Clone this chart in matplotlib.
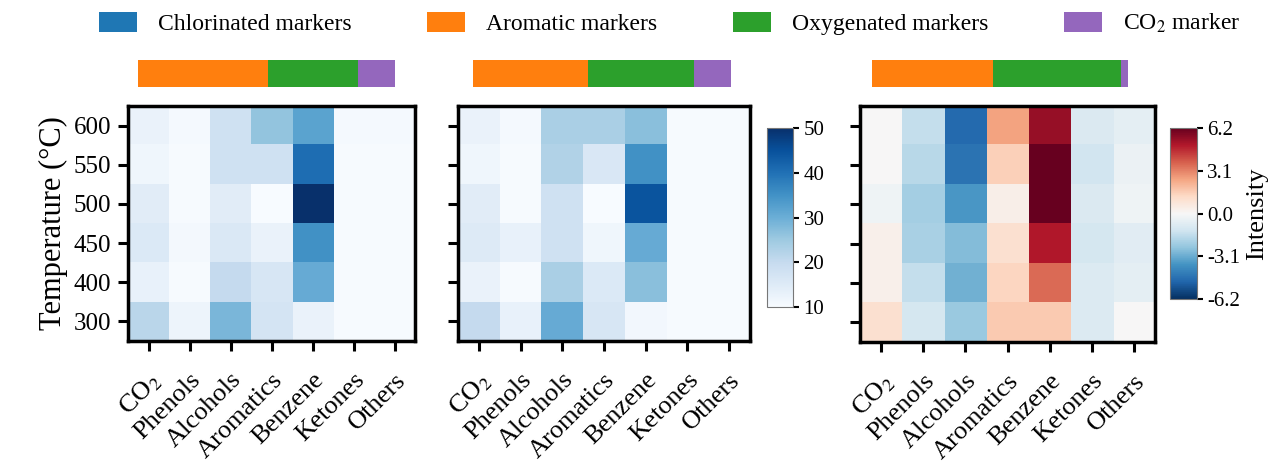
"""
Heatmaps of marker intensities vs temperature
"""
import numpy as np
import matplotlib
matplotlib.use("Agg")
import matplotlib.pyplot as plt
from matplotlib.patches import Patch

plt.rcParams['font.family'] = ['Liberation Serif', 'DejaVu Serif']
plt.rcParams['mathtext.fontset'] = 'stix'
plt.rcParams['axes.unicode_minus'] = False

compounds = ["CO$_2$", "Phenols", "Alcohols", "Aromatics", "Benzene", "Ketones", "Others"]
temperatures = ["600", "550", "500", "450", "400", "300"]

# panel 1 (rows: 600 .. 300)
panel_a = [
    [12.5, 10.5, 18.0, 26.0, 32.0, 10.5, 10.5],
    [11.5, 10.3, 18.0, 18.0, 40.5, 10.3, 10.3],
    [14.5, 10.2, 14.5, 10.0, 50.0, 10.3, 10.3],
    [15.5, 10.8, 15.8, 12.5, 35.0, 10.3, 10.3],
    [13.0, 10.3, 20.0, 16.5, 30.5, 10.3, 10.3],
    [21.5, 12.0, 28.5, 17.0, 12.5, 10.3, 10.3],
]
# panel 2
panel_b = [
    [12.5, 10.5, 23.5, 23.5, 27.0, 10.3, 10.3],
    [11.5, 10.3, 22.5, 16.0, 35.0, 10.3, 10.3],
    [14.5, 10.3, 18.0, 10.0, 44.5, 10.3, 10.3],
    [15.0, 13.0, 18.0, 11.5, 30.5, 10.3, 10.3],
    [12.5, 10.3, 23.5, 15.5, 27.0, 10.3, 10.3],
    [20.0, 13.0, 30.5, 16.5, 11.0, 10.3, 10.3],
]
# panel 3 (difference)
panel_diff = [
    [0.0, -1.5, -4.8, 2.5, 5.4, -0.9, -0.6],
    [0.0, -1.7, -4.6, 1.5, 6.2, -1.2, -0.35],
    [-0.25, -2.1, -3.6, 0.35, 6.2, -0.9, -0.25],
    [0.3, -2.0, -2.7, 1.0, 4.95, -1.1, -0.7],
    [0.3, -1.5, -3.0, 1.35, 3.5, -0.85, -0.6],
    [1.0, -1.1, -2.3, 1.6, 1.6, -0.85, 0.0],
]

marker_names = ["Chlorinated markers", "Aromatic markers", "Oxygenated markers", "CO$_2$ marker"]
marker_colors = ["#1f77b4", "#ff7f0e", "#2ca02c", "#9467bd"]
share_a = [0.0, 50.6, 35.0, 14.4]
share_b = [0.0, 44.6, 41.1, 14.3]
share_diff = [0.0, 47.3, 50.0, 2.7]

fig = plt.figure(figsize=(12.75, 4.62), dpi=100)


def heatmap(rect, data, cmap, vmin, vmax, ylabels):
    ax = fig.add_axes(rect)
    im = ax.imshow(np.array(data), cmap=cmap, vmin=vmin, vmax=vmax, aspect='auto')
    ax.set_xticks(range(len(compounds)))
    ax.set_xticklabels(compounds, rotation=45, ha='right', rotation_mode='anchor', fontsize=19)
    ax.set_yticks(range(len(temperatures)))
    if ylabels:
        ax.set_yticklabels(temperatures, fontsize=18)
        ax.set_ylabel("Temperature (°C)", fontsize=22)
    else:
        ax.set_yticklabels([])
    ax.tick_params(length=7, width=2.2, pad=5)
    ax.tick_params(axis='x', pad=13)
    for spine in ax.spines.values():
        spine.set_linewidth(2.5)
    return ax, im


def share_bar(rect, shares):
    ax = fig.add_axes(rect)
    left = 0
    for val, col in zip(shares, marker_colors):
        ax.barh(0, val, left=left, color=col, height=1.0)
        left += val
    ax.set_xlim(0, sum(shares))
    ax.set_ylim(-0.5, 0.5)
    ax.axis('off')


ax1, _ = heatmap([0.1004, 0.2619, 0.2251, 0.5087], panel_a, 'Blues', 10, 50, True)
ax2, im2 = heatmap([0.3592, 0.2619, 0.2290, 0.5087], panel_b, 'Blues', 10, 50, False)
ax3, im3 = heatmap([0.6745, 0.2597, 0.2314, 0.5109], panel_diff, 'RdBu_r', -6.2, 6.2, False)

cax1 = fig.add_axes([0.6016, 0.3355, 0.0204, 0.3874])
cb1 = fig.colorbar(im2, cax=cax1, ticks=[10, 20, 30, 40, 50])
cb1.ax.tick_params(labelsize=15, length=4, width=1.5)
cb1.outline.set_edgecolor('#777777')

cax2 = fig.add_axes([0.9176, 0.3528, 0.0212, 0.3701])
cb2 = fig.colorbar(im3, cax=cax2, ticks=[-6.2, -3.1, 0.0, 3.1, 6.2], format="%.1f")
cb2.ax.tick_params(labelsize=15, length=4, width=1.5)
cb2.outline.set_edgecolor('#777777')
cb2.set_label("Intensity", fontsize=19)

share_bar([0.1082, 0.8117, 0.2016, 0.0584], share_a)
share_bar([0.3710, 0.8117, 0.2024, 0.0584], share_b)
share_bar([0.6839, 0.8117, 0.2008, 0.0584], share_diff)

handles = [Patch(facecolor=c) for c in marker_colors]
fig.legend(handles, marker_names, loc='upper center', bbox_to_anchor=(0.525, 1.02),
           ncol=4, frameon=False, fontsize=17, handlelength=1.6, handleheight=0.9,
           columnspacing=3.2, handletextpad=0.9)

fig.text(422 / 1275, 0.012, "o", fontsize=30, fontweight='bold', ha='center', va='top')

fig.savefig("out.png", dpi=100)
